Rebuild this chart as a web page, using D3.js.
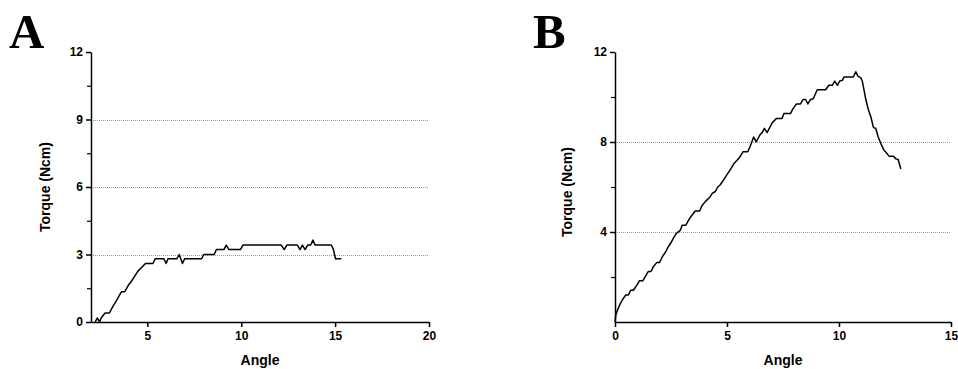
<!DOCTYPE html>
<html>
<head>
<meta charset="utf-8">
<script src="https://cdn.jsdelivr.net/npm/d3@7.9.0/dist/d3.min.js"></script>
<style>
  body { margin: 0; background: #fff; }
  svg { display: block; }
  .tick text { font-family: "Liberation Sans", Arial, sans-serif; font-weight: bold; font-size: 12px; fill: #000; }
</style>
</head>
<body>
<svg id="chart" width="958" height="369"></svg>
<script>
// --- Data ---
const angleA = [2.22, 2.34, 2.45, 2.54, 2.75, 2.98, 3.19, 3.36, 3.5, 3.63, 3.8, 3.98, 4.15, 4.33, 4.5, 4.68, 4.9,
  5.3, 5.42, 5.88, 6.0, 6.1, 6.58, 6.7, 6.87, 6.99, 7.89, 8.0, 8.56, 8.68, 9.08, 9.2, 9.35, 9.96, 10.09,
  12.13, 12.29, 12.43, 12.99, 13.13, 13.26, 13.4, 13.54, 13.7, 13.82, 13.93, 14.8, 14.91, 15.02, 15.33];
const torqueA = [0, 0.18, 0, 0.18, 0.4, 0.4, 0.73, 0.95, 1.17, 1.35, 1.35, 1.62, 1.81, 2.04, 2.26, 2.41, 2.6,
  2.6, 2.81, 2.81, 2.6, 2.81, 2.81, 3.0, 2.6, 2.81, 2.81, 3.0, 3.0, 3.22, 3.22, 3.42, 3.22, 3.22, 3.42,
  3.42, 3.22, 3.42, 3.42, 3.22, 3.42, 3.22, 3.42, 3.42, 3.64, 3.42, 3.42, 3.22, 2.81, 2.81];

const angleB = [0, 0.04, 0.12, 0.22, 0.34, 0.48, 0.6, 0.7, 0.82, 0.97, 1.09, 1.24, 1.37, 1.49, 1.61, 1.72, 1.87,
  1.99, 2.12, 2.25, 2.37, 2.49, 2.61, 2.73, 2.91, 3.0, 3.16, 3.28, 3.4, 3.58, 3.78, 3.88, 4.03, 4.22, 4.34,
  4.48, 4.58, 4.7, 4.85, 5.0, 5.15, 5.3, 5.45, 5.57, 5.72, 5.93, 6.04, 6.19, 6.31, 6.46, 6.57, 6.67, 6.79,
  7.01, 7.21, 7.46, 7.54, 7.84, 7.94, 8.1, 8.28, 8.4, 8.51, 8.61, 8.73, 8.85, 9.03, 9.4, 9.55, 9.7, 9.81,
  9.93, 10.03, 10.15, 10.22, 10.64, 10.75, 10.85, 10.97, 11.04, 11.12, 11.19, 11.3, 11.42, 11.54, 11.64,
  11.75, 11.87, 11.99, 12.09, 12.24, 12.43, 12.54, 12.64, 12.76];
const torqueB = [0, 0.33, 0.55, 0.78, 1.0, 1.2, 1.2, 1.41, 1.41, 1.63, 1.83, 1.83, 2.05, 2.25, 2.25, 2.47, 2.65,
  2.65, 2.91, 3.1, 3.33, 3.51, 3.73, 3.93, 4.07, 4.3, 4.3, 4.52, 4.7, 4.93, 4.93, 5.17, 5.35, 5.53, 5.72,
  5.8, 5.99, 6.1, 6.32, 6.55, 6.77, 7.03, 7.19, 7.33, 7.57, 7.57, 7.82, 8.22, 8.01, 8.3, 8.42, 8.61, 8.42,
  8.84, 9.05, 9.05, 9.27, 9.27, 9.47, 9.69, 9.69, 9.89, 9.89, 9.69, 9.89, 9.92, 10.32, 10.32, 10.52, 10.52, 10.71,
  10.52, 10.71, 10.74, 10.89, 10.89, 11.12, 10.92, 10.86, 10.71, 10.29, 9.92, 9.47, 9.12, 8.64, 8.61,
  8.22, 7.93, 7.67, 7.55, 7.37, 7.37, 7.25, 7.22, 6.8];

const xTicksA = [5, 10, 15, 20];
const yTicksA = [0, 3, 6, 9, 12];
const yMinorA = [1.5, 4.5, 7.5, 10.5];
const gridA = [3, 6, 9];

const xTicksB = [0, 5, 10, 15];
const yTicksB = [4, 8, 12];
const yMinorB = [2, 6, 10];
const gridB = [4, 8];

const GRID_COLOR = "#9090f0";
const svg = d3.select("#chart");

function drawPanel(opt) {
  const x = d3.scaleLinear().domain(opt.xDomain).range([opt.left, opt.right]);
  const y = d3.scaleLinear().domain([0, 12]).range([322, 52]);
  const g = svg.append("g");

  // dotted gridlines
  g.append("g")
    .selectAll("line")
    .data(opt.grid)
    .join("line")
    .attr("x1", opt.left)
    .attr("x2", opt.right)
    .attr("y1", (d) => Math.round(y(d)) + 0.5)
    .attr("y2", (d) => Math.round(y(d)) + 0.5)
    .attr("stroke", GRID_COLOR)
    .attr("stroke-width", 1)
    .attr("stroke-dasharray", "1,1");

  // minor y ticks
  g.append("g")
    .attr("transform", `translate(${opt.left},0)`)
    .call(d3.axisLeft(y).tickValues(opt.yMinor).tickSize(4).tickFormat(""))
    .call((a) => a.select(".domain").remove())
    .call((a) => a.selectAll("line").attr("stroke-width", 1.2));

  // y axis
  g.append("g")
    .attr("transform", `translate(${opt.left},0)`)
    .call(d3.axisLeft(y).tickValues(opt.yTicks).tickSize(5).tickSizeOuter(0).tickPadding(3))
    .call((a) => a.selectAll("line, path").attr("stroke-width", 1.5));

  // x axis
  g.append("g")
    .attr("transform", `translate(0,${y(0)})`)
    .call(d3.axisBottom(x).tickValues(opt.xTicks).tickSize(5).tickSizeOuter(0).tickPadding(4))
    .call((a) => a.selectAll("line, path").attr("stroke-width", 1.5));

  // data line
  const pts = d3.zip(opt.xs, opt.ys);
  g.append("path")
    .datum(pts)
    .attr("fill", "none")
    .attr("stroke", "#000")
    .attr("stroke-width", 1.5)
    .attr("stroke-linejoin", "round")
    .attr("d", d3.line().x((d) => x(d[0])).y((d) => y(d[1])));

  // axis titles
  g.append("text")
    .attr("x", (opt.left + opt.right) / 2)
    .attr("y", 365)
    .attr("text-anchor", "middle")
    .attr("font-family", "Liberation Sans, Arial, sans-serif")
    .attr("font-weight", "bold")
    .attr("font-size", 14)
    .text("Angle");

  g.append("text")
    .attr("transform", `translate(${opt.yLabelX},${opt.yLabelY}) rotate(-90)`)
    .attr("text-anchor", "middle")
    .attr("font-family", "Liberation Sans, Arial, sans-serif")
    .attr("font-weight", "bold")
    .attr("font-size", 14)
    .text("Torque (Ncm)");

  // panel letter
  g.append("text")
    .attr("x", opt.letterX)
    .attr("y", 48)
    .attr("font-family", "Liberation Serif, Times New Roman, serif")
    .attr("font-weight", "bold")
    .attr("font-size", 49)
    .text(opt.letter);
}

drawPanel({
  letter: "A", letterX: 9,
  xDomain: [2, 20], left: 91, right: 429,
  xTicks: xTicksA, yTicks: yTicksA, yMinor: yMinorA, grid: gridA,
  xs: angleA, ys: torqueA,
  yLabelX: 50, yLabelY: 187
});

drawPanel({
  letter: "B", letterX: 533,
  xDomain: [0, 15], left: 615, right: 951,
  xTicks: xTicksB, yTicks: yTicksB, yMinor: yMinorB, grid: gridB,
  xs: angleB, ys: torqueB,
  yLabelX: 572, yLabelY: 192
});
</script>
</body>
</html>
